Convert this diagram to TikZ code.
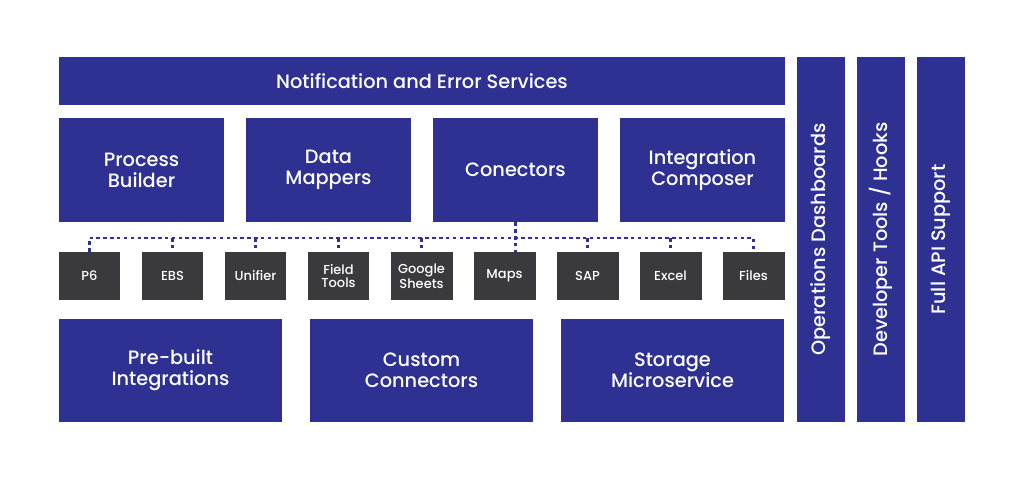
\documentclass[tikz,border=0pt]{standalone}
\usepackage{fontspec}
\setmainfont{Poppins}[UprightFont=* Medium]
\definecolor{bluebox}{HTML}{2E3192}
\definecolor{greybox}{HTML}{3A3A3C}

\begin{document}
\begin{tikzpicture}[x=0.02cm, y=-0.02cm,
    block/.style={fill=bluebox, text=white, align=center, inner sep=0pt,
                  font=\fontsize{11}{12}\selectfont},
    wide/.style={block, minimum width=14.52cm, minimum height=0.96cm},
    module/.style={block, minimum width=3.3cm, minimum height=2.08cm},
    base/.style={block, minimum width=4.46cm, minimum height=2.06cm},
    column/.style={block, minimum width=7.3cm, minimum height=0.96cm, rotate=90},
    system/.style={fill=greybox, text=white, align=center, inner sep=0pt,
                   minimum width=1.24cm, minimum height=0.96cm,
                   font=\fontsize{7.4}{7.4}\selectfont},
    bus/.style={bluebox, line width=1.4pt, dash pattern=on 2pt off 1.9pt}]

    \useasboundingbox (0,0) rectangle (1024,480);

    % top bar
    \node[wide] (notify) at (422,81) {Notification and Error Services};

    % modules
    \node[module] (process)  at (141.5,170) {Process\\Builder};
    \node[module] (mappers)  at (328.5,170) {Data\\Mappers};
    \node[module] (con)      at (515.5,170) {Conectors};
    \node[module] (composer) at (702.5,170) {Integration\\Composer};

    % systems
    \foreach \n/\t [count=\i from 0] in {p6/P6, ebs/EBS, unifier/Unifier,
        field/{Field\\Tools}, google/{Google\\Sheets}, maps/Maps, sap/SAP,
        excel/Excel, files/Files}
        \node[system] (\n) at (89.5+83*\i,276) {\t};

    % bottom row
    \node[base] (prebuilt) at (170.5,370.5) {Pre-built\\Integrations};
    \node[base] (custom)   at (421.5,370.5) {Custom\\Connectors};
    \node[base] (storage)  at (672.5,370.5) {Storage\\Microservice};

    % columns
    \node[column] (ops) at (821,239.5) {Operations Dashboards};
    \node[column] (dev) at (881,239.5) {Developer Tools / Hooks};
    \node[column] (api) at (941,239.5) {Full API Support};

    % dotted bus
    \coordinate (bus) at (0,238);
    \draw[bus] (p6.north) -- (p6.north |- bus) -- (files.north |- bus) -- (files.north);
    \foreach \n in {ebs, unifier, field, google, sap, excel}
        \draw[bus] (\n.north |- bus) -- (\n.north);
    \draw[bus] (con.south) -- (con.south |- maps.north);

\end{tikzpicture}
\end{document}
